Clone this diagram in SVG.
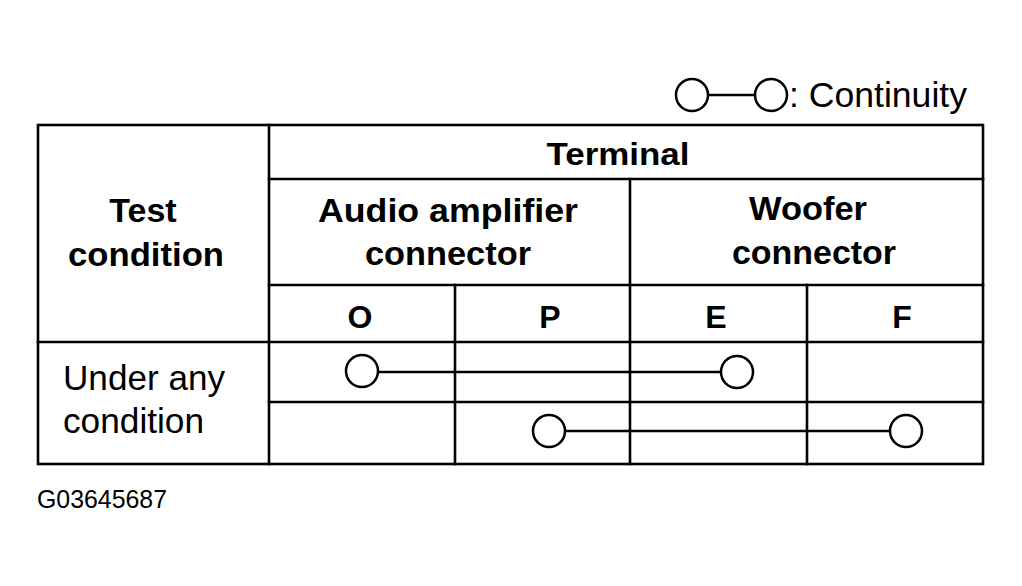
<svg xmlns="http://www.w3.org/2000/svg" width="1022" height="586" viewBox="0 0 1022 586">
<style>
.ln{stroke:#000;stroke-width:2.6;fill:none;stroke-linecap:square}
.b{font-family:"Liberation Sans",Arial,sans-serif;font-weight:bold;fill:#000}
.r{font-family:"Liberation Sans",Arial,sans-serif;fill:#000}
.c{fill:#fff;stroke:#000;stroke-width:2.5}
.w{stroke:#000;stroke-width:2.5}
</style>
<rect width="1022" height="586" fill="#fff"/>
<g id="legend">
<line class="w" x1="708" y1="95" x2="755" y2="95"/>
<circle class="c" cx="692" cy="95" r="16"/>
<circle class="c" cx="771" cy="95" r="16"/>
<text class="r" x="789" y="107" font-size="35" textLength="178" lengthAdjust="spacingAndGlyphs">: Continuity</text>
</g>
<g id="table">
<rect class="ln" x="38" y="125" width="945" height="339"/>
<line class="ln" x1="269" y1="125" x2="269" y2="464"/>
<line class="ln" x1="269" y1="179" x2="983" y2="179"/>
<line class="ln" x1="269" y1="285" x2="983" y2="285"/>
<line class="ln" x1="630" y1="179" x2="630" y2="464"/>
<line class="ln" x1="455" y1="285" x2="455" y2="464"/>
<line class="ln" x1="807" y1="285" x2="807" y2="464"/>
<line class="ln" x1="38" y1="342" x2="983" y2="342"/>
<line class="ln" x1="269" y1="402" x2="983" y2="402"/>
</g>
<g id="headers">
<text class="b" x="143" y="222" font-size="34" text-anchor="middle">Test</text>
<text class="b" x="146" y="266" font-size="34" text-anchor="middle" textLength="156" lengthAdjust="spacingAndGlyphs">condition</text>
<text class="b" x="618" y="165" font-size="32" text-anchor="middle" textLength="143" lengthAdjust="spacingAndGlyphs">Terminal</text>
<text class="b" x="448" y="222" font-size="34" text-anchor="middle" textLength="260" lengthAdjust="spacingAndGlyphs">Audio amplifier</text>
<text class="b" x="448" y="265" font-size="34" text-anchor="middle" textLength="166" lengthAdjust="spacingAndGlyphs">connector</text>
<text class="b" x="808" y="220" font-size="34" text-anchor="middle" textLength="118" lengthAdjust="spacingAndGlyphs">Woofer</text>
<text class="b" x="814" y="264" font-size="34" text-anchor="middle" textLength="164" lengthAdjust="spacingAndGlyphs">connector</text>
<text class="b" x="360" y="328" font-size="32" text-anchor="middle">O</text>
<text class="b" x="550" y="328" font-size="32" text-anchor="middle">P</text>
<text class="b" x="716" y="328" font-size="32" text-anchor="middle">E</text>
<text class="b" x="902" y="328" font-size="32" text-anchor="middle">F</text>
<text class="r" x="63" y="390" font-size="35" textLength="162" lengthAdjust="spacingAndGlyphs">Under any</text>
<text class="r" x="63" y="433" font-size="35" textLength="141" lengthAdjust="spacingAndGlyphs">condition</text>
</g>
<g id="connectors">
<line class="w" x1="378" y1="372" x2="721" y2="372"/>
<line class="w" x1="565" y1="431" x2="890" y2="431"/>
</g>
<g id="node-O"><circle class="c" cx="362" cy="371" r="16"/></g>
<g id="node-E"><circle class="c" cx="737" cy="372" r="16"/></g>
<g id="node-P"><circle class="c" cx="549" cy="431" r="16"/></g>
<g id="node-F"><circle class="c" cx="906" cy="431" r="16"/></g>
<text class="r" x="37" y="508" font-size="25" textLength="130" lengthAdjust="spacingAndGlyphs">G03645687</text>
</svg>
